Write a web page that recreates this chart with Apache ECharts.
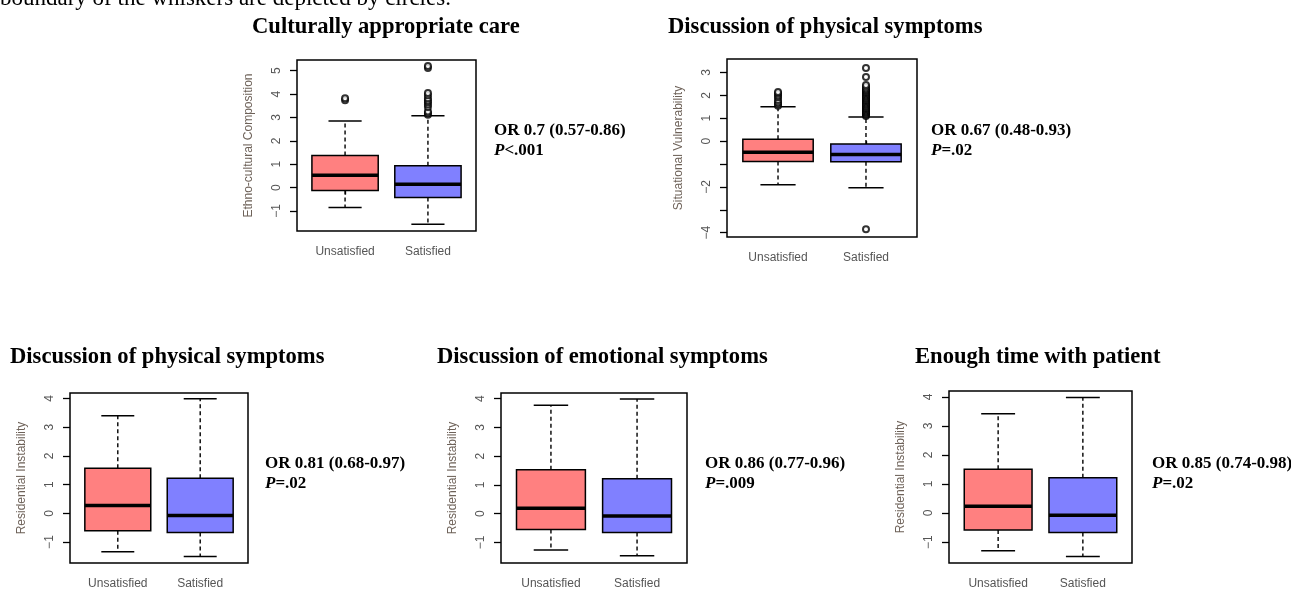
<!DOCTYPE html>
<html>
<head>
<meta charset="utf-8">
<script src="https://cdn.jsdelivr.net/npm/echarts@6/dist/echarts.min.js"></script>
<style>html,body{margin:0;padding:0;background:#fff;}#chart{width:1291px;height:590px;}</style>
</head>
<body>
<div id="chart"></div>
<script>
// ---- data ----
const categories = ['Unsatisfied', 'Satisfied'];
// box stats: [lower whisker, Q1, median, Q3, upper whisker]
const p1Unsat = [-0.85, -0.13, 0.53, 1.37, 2.85];
const p1Sat   = [-1.57, -0.43, 0.14, 0.93, 3.07];
const p1UnsatOut = [3.74, 3.82];
const p1SatOut   = [3.12, 3.18, 3.26, 3.45, 3.55, 3.65, 3.73, 3.82, 3.95, 4.05, 5.12, 5.2];

const p2Unsat = [-1.91, -0.89, -0.49, 0.08, 1.5];
const p2Sat   = [-2.04, -0.9, -0.58, -0.13, 1.06];
const p2UnsatOut = [1.55, 1.62, 1.7, 1.8, 1.92, 2.0, 2.08, 2.15];
const p2SatOut   = [1.1, 1.15, 1.2, 1.25, 1.3, 1.35, 1.4, 1.45, 1.5, 1.55, 1.6, 1.65, 1.7, 1.75, 1.8,
                    1.85, 1.9, 1.95, 2.0, 2.05, 2.1, 2.15, 2.2, 2.25, 2.3, 2.38, 2.45, 2.8, 3.2, -3.85];

const p3Unsat = [-1.34, -0.61, 0.27, 1.57, 3.4];
const p3Sat   = [-1.5, -0.67, -0.08, 1.22, 3.99];
const p4Unsat = [-1.27, -0.55, 0.19, 1.53, 3.77];
const p4Sat   = [-1.47, -0.66, -0.08, 1.21, 3.99];
const p5Unsat = [-1.3, -0.58, 0.23, 1.51, 3.42];
const p5Sat   = [-1.5, -0.67, -0.08, 1.21, 3.98];

const titles = ['Culturally appropriate care', 'Discussion of physical symptoms',
  'Discussion of physical symptoms', 'Discussion of emotional symptoms', 'Enough time with patient'];
const yNames = ['Ethno-cultural Composition', 'Situational Vulnerability',
  'Residential Instability', 'Residential Instability', 'Residential Instability'];
const orTexts = ['OR 0.7 (0.57-0.86)', 'OR 0.67 (0.48-0.93)', 'OR 0.81 (0.68-0.97)',
  'OR 0.86 (0.77-0.96)', 'OR 0.85 (0.74-0.98)'];
const pTexts = ['<.001', '=.02', '=.02', '=.009', '=.02'];
const yTicks1 = [-1, 0, 1, 2, 3, 4, 5];
const yTicks2 = [-4, -3, -2, -1, 0, 1, 2, 3];
const yLabels2 = [-4, -2, 0, 1, 2, 3];
const yTicks3 = [-1, 0, 1, 2, 3, 4];
const footnote = 'boundary of the whiskers are depicted by circles.';

// ---- layout ----
const panels = [
  {stats: [p1Unsat, p1Sat], out: [p1UnsatOut, p1SatOut], ticks: yTicks1, labels: yTicks1, range: [-1.86, 5.46],
   grid: {left: 297, top: 60, width: 179, height: 171}, title: [252, 27], or: [494, 131]},
  {stats: [p2Unsat, p2Sat], out: [p2UnsatOut, p2SatOut], ticks: yTicks2, labels: yLabels2, range: [-4.19, 3.59],
   grid: {left: 727, top: 59, width: 190, height: 178}, title: [668, 27], or: [931, 131]},
  {stats: [p3Unsat, p3Sat], out: [[], []], ticks: yTicks3, labels: yTicks3, range: [-1.73, 4.19],
   grid: {left: 70, top: 393, width: 178, height: 170}, title: [10, 357], or: [265, 464]},
  {stats: [p4Unsat, p4Sat], out: [[], []], ticks: yTicks3, labels: yTicks3, range: [-1.72, 4.2],
   grid: {left: 501, top: 393, width: 186, height: 170}, title: [437, 357], or: [705, 464]},
  {stats: [p5Unsat, p5Sat], out: [[], []], ticks: yTicks3, labels: yTicks3, range: [-1.72, 4.2],
   grid: {left: 949, top: 391, width: 183, height: 173}, title: [915, 357], or: [1152, 464]}
];

const boxColors = ['#FF8080', '#8080FF'];
const labelColor = '#555555';
const nameColor = '#6e6259';
const sans = 'Liberation Sans, Arial, sans-serif';
const serif = 'Liberation Serif, Times New Roman, serif';
const fmtNum = v => String(v).replace('-', '\u2212');

function renderBox(params, api) {
  const x = api.value(0);
  const low = api.coord([x, api.value(1)]);
  const q1 = api.coord([x, api.value(2)]);
  const med = api.coord([x, api.value(3)]);
  const q3 = api.coord([x, api.value(4)]);
  const high = api.coord([x, api.value(5)]);
  const w = api.size([0.8, 0])[0];
  const half = w / 2;
  const cx = low[0];
  const dashed = {stroke: '#000', lineWidth: 1.4, lineDash: [4, 3]};
  const solid = {stroke: '#000', lineWidth: 1.5};
  return {
    type: 'group',
    children: [
      {type: 'line', shape: {x1: cx, y1: q3[1], x2: cx, y2: high[1]}, style: dashed},
      {type: 'line', shape: {x1: cx, y1: q1[1], x2: cx, y2: low[1]}, style: dashed},
      {type: 'line', shape: {x1: cx - half / 2, y1: high[1], x2: cx + half / 2, y2: high[1]}, style: solid},
      {type: 'line', shape: {x1: cx - half / 2, y1: low[1], x2: cx + half / 2, y2: low[1]}, style: solid},
      {type: 'rect', shape: {x: cx - half, y: q3[1], width: w, height: q1[1] - q3[1]},
       style: {fill: boxColors[params.dataIndex], stroke: '#000', lineWidth: 1.5}},
      {type: 'line', shape: {x1: cx - half, y1: med[1], x2: cx + half, y2: med[1]},
       style: {stroke: '#000', lineWidth: 3.5}}
    ]
  };
}

const grid = [], xAxis = [], yAxis = [], series = [], graphic = [];
panels.forEach((p, i) => {
  grid.push(Object.assign({show: true, borderColor: '#000', borderWidth: 1.5, backgroundColor: 'transparent'}, p.grid));
  xAxis.push({
    type: 'value', gridIndex: i, min: 0.42, max: 2.58,
    axisLine: {show: false}, splitLine: {show: false},
    axisTick: {show: true, customValues: [1, 2], length: 7, lineStyle: {color: '#000', width: 1.3}},
    axisLabel: {customValues: [1, 2], formatter: v => categories[Math.round(v) - 1],
      color: labelColor, fontSize: 12, fontFamily: sans, margin: 15}
  });
  yAxis.push({
    type: 'value', gridIndex: i, min: p.range[0], max: p.range[1],
    axisLine: {show: false}, splitLine: {show: false},
    axisTick: {show: true, customValues: p.ticks, length: 7, lineStyle: {color: '#000', width: 1.3}},
    axisLabel: {customValues: p.labels, formatter: fmtNum, rotate: 90,
      color: labelColor, fontSize: 12, fontFamily: sans, margin: 14},
    name: yNames[i], nameLocation: 'middle', nameGap: 42, nameRotate: 90,
    nameTextStyle: {color: nameColor, fontSize: 12, fontFamily: sans}
  });
  series.push({
    type: 'custom', xAxisIndex: i, yAxisIndex: i, renderItem: renderBox,
    encode: {x: 0, y: [1, 2, 3, 4, 5]},
    data: p.stats.map((s, k) => [k + 1].concat(s)), silent: true
  });
  const outData = [];
  p.out.forEach((arr, k) => arr.forEach(v => outData.push([k + 1, v])));
  series.push({
    type: 'scatter', xAxisIndex: i, yAxisIndex: i, data: outData,
    symbol: 'emptyCircle', symbolSize: 6,
    itemStyle: {color: '#000', borderColor: '#000', borderWidth: 1.2}, silent: true
  });
  graphic.push({type: 'text', x: p.title[0], y: p.title[1],
    style: {text: titles[i], font: 'bold 22.6px ' + serif, fill: '#000', verticalAlign: 'middle'}});
  graphic.push({type: 'text', x: p.or[0], y: p.or[1],
    style: {text: orTexts[i], font: 'bold 17px ' + serif, fill: '#000', verticalAlign: 'middle'}});
  graphic.push({type: 'text', x: p.or[0], y: p.or[1] + 20,
    style: {text: '{i|P}{b|' + pTexts[i] + '}', fill: '#000', verticalAlign: 'middle',
      rich: {i: {fontStyle: 'italic', fontWeight: 'bold', fontSize: 17, fontFamily: serif, color: '#000'},
             b: {fontWeight: 'bold', fontSize: 17, fontFamily: serif, color: '#000'}}}});
});
graphic.push({type: 'text', x: 0, y: 10,
  style: {text: footnote, font: '23px ' + serif, fill: '#000', verticalAlign: 'bottom'}});

const chart = echarts.init(document.getElementById('chart'));
chart.setOption({animation: false, grid, xAxis, yAxis, series, graphic});
</script>
</body>
</html>
